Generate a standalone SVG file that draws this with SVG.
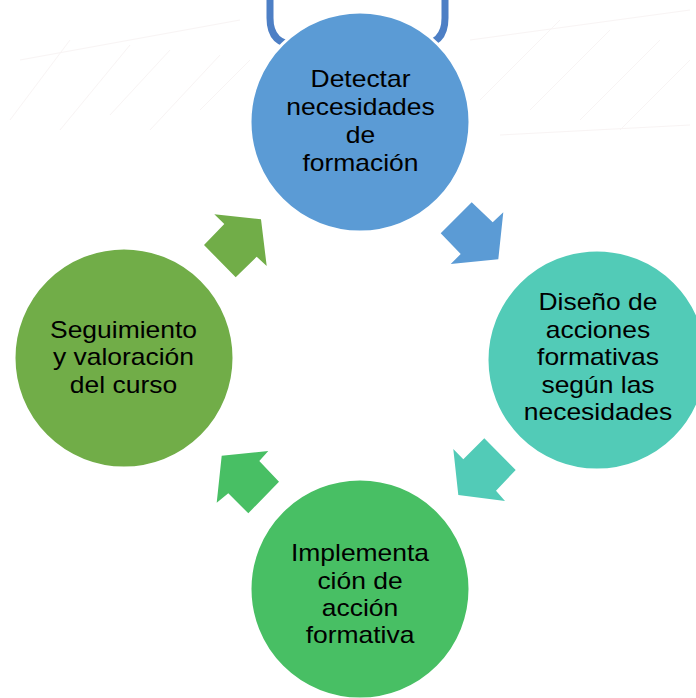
<svg xmlns="http://www.w3.org/2000/svg" width="696" height="698" viewBox="0 0 696 698">
<style>
.node circle{stroke:#ffffff;stroke-width:3}
.lbl{font-family:"Liberation Sans",Arial,sans-serif;font-size:23px;fill:#000000;text-anchor:middle}
.bg line{stroke:#efe4e4;stroke-width:1}
</style>
<rect width="696" height="698" fill="#ffffff"/>
<g class="bg" opacity="0.4">
<line x1="10" y1="120" x2="70" y2="40"/><line x1="60" y1="130" x2="130" y2="45"/><line x1="110" y1="115" x2="170" y2="50"/>
<line x1="150" y1="130" x2="220" y2="55"/><line x1="200" y1="110" x2="250" y2="60"/><line x1="20" y1="60" x2="240" y2="20"/>
<line x1="480" y1="100" x2="560" y2="20"/><line x1="530" y1="110" x2="610" y2="30"/><line x1="580" y1="120" x2="660" y2="40"/>
<line x1="620" y1="130" x2="690" y2="60"/><line x1="470" y1="40" x2="690" y2="10"/><line x1="500" y1="135" x2="690" y2="125"/>
</g>
<path d="M 270 -5 V 18 Q 270 45 297 45 H 418 Q 445 45 445 18 V -5" fill="none" stroke="#4d7fc5" stroke-width="7"/>
<g id="connectors">
<polygon points="471.7,202.3 492.7,222.3 503.3,212.3 498.3,259.3 450.7,264 460.7,254 440.7,233.3" fill="#5b9bd5"/>
<polygon points="484.3,438.3 515.7,470 496,490.7 505,501 458.3,495 453.3,449 463.3,459.3" fill="#52cbb7"/>
<polygon points="268.3,451 259.3,461 279,481.7 248.3,513.3 228.3,493.3 216.7,502.7 221.7,455.7" fill="#48bf64"/>
<polygon points="214.3,214.3 261,219.3 266.7,266 256.7,256.7 235.7,277.3 204,245 224.3,224" fill="#71ad48"/>
</g>
<g id="node-detectar" class="node">
<circle cx="360" cy="122" r="110" fill="#5b9bd5"/>
<text class="lbl" transform="translate(360.5,0) scale(1.15,1)"><tspan x="0" y="87">Detectar</tspan><tspan x="0" y="115">necesidades</tspan><tspan x="0" y="143">de</tspan><tspan x="0" y="171">formación</tspan></text>
</g>
<g id="node-diseno" class="node">
<circle cx="597" cy="360" r="110" fill="#52cbb7"/>
<text class="lbl" transform="translate(598,0) scale(1.15,1)"><tspan x="0" y="310.5">Diseño de</tspan><tspan x="0" y="338">acciones</tspan><tspan x="0" y="365.5">formativas</tspan><tspan x="0" y="393">según las</tspan><tspan x="0" y="420">necesidades</tspan></text>
</g>
<g id="node-implementacion" class="node">
<circle cx="360" cy="589" r="110" fill="#48bf64"/>
<text class="lbl" transform="translate(360,0) scale(1.15,1)"><tspan x="0" y="561.5">Implementa</tspan><tspan x="0" y="589">ción de</tspan><tspan x="0" y="616">acción</tspan><tspan x="0" y="643.5">formativa</tspan></text>
</g>
<g id="node-seguimiento" class="node">
<circle cx="124" cy="358" r="110" fill="#71ad48"/>
<text class="lbl" transform="translate(123.5,0) scale(1.15,1)"><tspan x="0" y="338">Seguimiento</tspan><tspan x="0" y="365.5">y valoración</tspan><tspan x="0" y="393">del curso</tspan></text>
</g>
</svg>
